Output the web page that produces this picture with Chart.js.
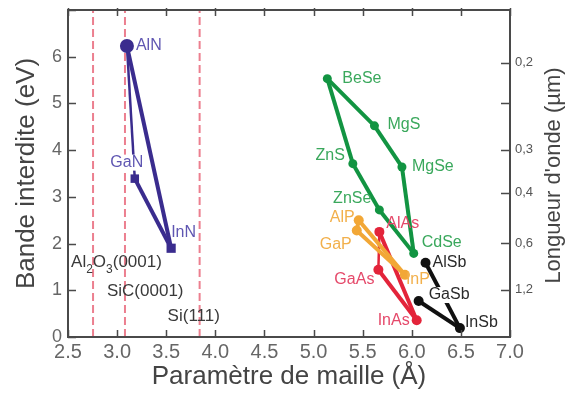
<!DOCTYPE html>
<html><head><meta charset="utf-8">
<script src="https://cdn.jsdelivr.net/npm/chart.js@4/dist/chart.umd.min.js"></script>
<style>html,body{margin:0;padding:0;background:#fff}canvas{display:block}</style>
</head><body>
<canvas id="c" width="565" height="400"></canvas>
<script>
// ---------- data ----------
const nitrides = ['AlN', 'GaN', 'InN'];
const nitrideLattice = [3.10, 3.18, 3.55];
const nitrideGap = [6.23, 3.39, 1.90];

const chalcogenides = ['BeSe', 'MgS', 'MgSe', 'ZnS', 'ZnSe', 'CdSe'];
const chalcogenideLattice = [5.14, 5.62, 5.90, 5.40, 5.67, 6.02];
const chalcogenideGap = [5.53, 4.52, 3.64, 3.71, 2.72, 1.79];

const phosphides = ['AlP', 'GaP', 'InP'];
const phosphideLattice = [5.46, 5.44, 5.93];
const phosphideGap = [2.50, 2.28, 1.33];

const arsenides = ['AlAs', 'GaAs', 'InAs'];
const arsenideLattice = [5.67, 5.66, 6.05];
const arsenideGap = [2.25, 1.44, 0.36];

const antimonides = ['AlSb', 'GaSb', 'InSb'];
const antimonideLattice = [6.14, 6.07, 6.49];
const antimonideGap = [1.59, 0.77, 0.19];

const substrates = ['Al2O3(0001)', 'SiC(0001)', 'Si(111)'];
const substrateLattice = [2.755, 3.08, 3.84];
const substrateLabelGap = [1.50, 0.88, 0.35];

const wavelengthLabels = ['0,2', '', '0,3', '0,4', '0,6', '1,2'];
const wavelengthGap = [5.87, 5.01, 4.01, 3.09, 2.01, 1.01];

// links between compounds (thick / thin)
const nitrideLinks = [['AlN', 'InN'], ['GaN', 'InN']];
const nitrideThinLinks = [['AlN', 'GaN']];
const chalcogenideLinks = [['BeSe', 'MgS'], ['MgS', 'MgSe'], ['MgSe', 'CdSe'], ['BeSe', 'ZnS'], ['ZnS', 'ZnSe'], ['ZnSe', 'CdSe']];
const phosphideLinks = [['AlP', 'InP'], ['GaP', 'InP'], ['AlP', 'GaP']];
const arsenideLinks = [['AlAs', 'InAs'], ['GaAs', 'InAs']];
const arsenideThinLinks = [['AlAs', 'GaAs']];
const antimonideLinks = [['AlSb', 'InSb'], ['GaSb', 'InSb']];

// ---------- styles ----------
const families = [
  { names: nitrides, xs: nitrideLattice, ys: nitrideGap, links: nitrideLinks, thin: nitrideThinLinks,
    color: '#3a2c8e', label: '#5f56b2', styles: ['circle', 'rect', 'rect'], radius: [7, 6, 6.5] },
  { names: chalcogenides, xs: chalcogenideLattice, ys: chalcogenideGap, links: chalcogenideLinks, thin: [],
    color: '#129442', label: '#3aa85c', styles: 'circle', radius: 4.5 },
  { names: phosphides, xs: phosphideLattice, ys: phosphideGap, links: phosphideLinks, thin: [],
    color: '#f2a736', label: '#f2b04c', styles: 'circle', radius: 5 },
  { names: arsenides, xs: arsenideLattice, ys: arsenideGap, links: arsenideLinks, thin: arsenideThinLinks,
    color: '#e3243a', label: '#e5496a', styles: 'circle', radius: 5 },
  { names: antimonides, xs: antimonideLattice, ys: antimonideGap, links: antimonideLinks, thin: [],
    color: '#111111', label: '#2a2a2a', styles: 'circle', radius: 5 }
];

// label placement relative to the point (pixels)
const labelPlacement = {
  AlN: [9, 0, 'left'], GaN: [-8, -16, 'center', true], InN: [0, -16, 'left'],
  BeSe: [15, 0, 'left'], MgS: [13, -1, 'left'], MgSe: [10, 0, 'left'],
  ZnS: [-8, -8, 'right'], ZnSe: [-8, -11, 'right'], CdSe: [8, -11, 'left'],
  AlP: [-4, -3, 'right'], GaP: [-5, 14, 'right'], InP: [1, 5, 'left'],
  AlAs: [7, -8, 'left'], GaAs: [-4, 10, 'right'], InAs: [-7, 0, 'right'],
  AlSb: [7, 0, 'left'], GaSb: [10, -6, 'left', true], InSb: [5, -6, 'left']
};
const substrateLabelShift = [-22, -18, -32];

const FONT = "'Liberation Sans', Arial, sans-serif";

function point(f, name) {
  const i = f.names.indexOf(name);
  return { x: f.xs[i], y: f.ys[i] };
}

const datasets = [];
families.forEach(f => {
  datasets.push({
    type: 'scatter', order: 0,
    data: f.names.map((n, i) => ({ x: f.xs[i], y: f.ys[i] })),
    pointStyle: f.styles, pointRadius: f.radius,
    backgroundColor: f.color, borderColor: f.color, borderWidth: 0
  });
  f.links.forEach(l => datasets.push({
    type: 'line', order: 1, data: l.map(n => point(f, n)),
    borderColor: f.color, borderWidth: 4, pointRadius: 0, tension: 0
  }));
  f.thin.forEach(l => datasets.push({
    type: 'line', order: 1, data: l.map(n => point(f, n)),
    borderColor: f.color, borderWidth: 2.5, pointRadius: 0, tension: 0
  }));
});
substrateLattice.forEach(v => datasets.push({
  type: 'line', order: 2, data: [{ x: v, y: 0 }, { x: v, y: 7 }],
  borderColor: '#ec7f8f', borderWidth: 2, borderDash: [8, 4], pointRadius: 0
}));

const decor = {
  id: 'decor',
  afterDatasetsDraw(chart) {
    const { ctx, chartArea: a, scales } = chart;
    const x = scales.x, y = scales.y;
    ctx.save();
    // compound labels
    ctx.font = '16px ' + FONT;
    ctx.textBaseline = 'middle';
    families.forEach(f => {
      f.names.forEach((n, i) => {
        const [dx, dy, align, bg] = labelPlacement[n];
        const px = x.getPixelForValue(f.xs[i]) + dx;
        const py = y.getPixelForValue(f.ys[i]) + dy;
        ctx.textAlign = align;
        if (bg) {
          const w = ctx.measureText(n).width;
          const lx = align === 'center' ? px - w / 2 : align === 'right' ? px - w : px;
          ctx.fillStyle = '#fff';
          ctx.fillRect(lx - 1, py - 8, w + 2, 16);
        }
        ctx.fillStyle = f.label;
        ctx.fillText(n, px, py);
      });
    });
    // substrate labels
    ctx.fillStyle = '#3a3a3a';
    ctx.textAlign = 'left';
    ctx.textBaseline = 'alphabetic';
    substrates.forEach((s, i) => {
      let px = x.getPixelForValue(substrateLattice[i]) + substrateLabelShift[i];
      const py = y.getPixelForValue(substrateLabelGap[i]);
      const head = s.split('(')[0];
      const tail = s.slice(head.length);
      for (const ch of head) {
        if (/[0-9]/.test(ch)) {
          ctx.font = '12px ' + FONT;
          ctx.fillText(ch, px, py + 6);
        } else {
          ctx.font = '17px ' + FONT;
          ctx.fillText(ch, px, py);
        }
        px += ctx.measureText(ch).width;
      }
      ctx.font = '17px ' + FONT;
      ctx.fillText(tail, px, py);
    });

    // frame and inward ticks
    ctx.strokeStyle = '#4a4a4a';
    ctx.lineWidth = 2;
    ctx.strokeRect(a.left, a.top, a.right - a.left, a.bottom - a.top);
    ctx.lineWidth = 1.5;
    ctx.beginPath();
    x.ticks.forEach(t => {
      const px = Math.round(x.getPixelForValue(t.value)) + 0.5;
      ctx.moveTo(px, a.bottom); ctx.lineTo(px, a.bottom - 7);
      ctx.moveTo(px, a.top - 2); ctx.lineTo(px, a.top + 6);
    });
    y.ticks.forEach(t => {
      const py = Math.round(y.getPixelForValue(t.value)) + 0.5;
      ctx.moveTo(a.left, py); ctx.lineTo(a.left + 8, py);
    });
    scales.y2.ticks.forEach(t => {
      const py = Math.round(scales.y2.getPixelForValue(t.value)) + 0.5;
      ctx.moveTo(a.right, py); ctx.lineTo(a.right - 9, py);
    });
    ctx.stroke();

    // right axis title
    ctx.translate(554, (a.top + a.bottom) / 2 + 2);
    ctx.rotate(-Math.PI / 2);
    ctx.font = '22px ' + FONT;
    ctx.fillStyle = '#444';
    ctx.textAlign = 'center';
    ctx.textBaseline = 'middle';
    ctx.fillText("Longueur d'onde (µm)", 0, 0);
    ctx.restore();
  }
};

const noPadV = s => { s.paddingTop = 0; s.paddingBottom = 0; };
new Chart(document.getElementById('c'), {
  type: 'scatter',
  data: { datasets },
  options: {
    responsive: false, animation: false, devicePixelRatio: 1,
    layout: { padding: { top: 10, left: 0, right: 0, bottom: 0 } },
    plugins: { legend: { display: false }, tooltip: { enabled: false } },
    scales: {
      x: {
        type: 'linear', min: 2.5, max: 7,
        grid: { display: false, drawTicks: false }, border: { display: false },
        ticks: { stepSize: 0.5, padding: 3, color: '#666', font: { size: 20, family: FONT },
          callback: v => v.toFixed(1) },
        title: { display: true, text: 'Paramètre de maille (Å)', color: '#444',
          font: { size: 26, family: FONT }, padding: { top: 0, bottom: 8 } },
        afterFit: s => { s.height = 63; s.paddingLeft = 0; s.paddingRight = 0; }
      },
      y: {
        type: 'linear', min: 0, max: 7, position: 'left',
        grid: { display: false, drawTicks: false }, border: { display: false },
        ticks: { stepSize: 1, padding: 6, color: '#666', font: { size: 18, family: FONT },
          callback: v => (v === 7 ? '' : v) },
        title: { display: true, text: 'Bande interdite (eV)', color: '#444',
          font: { size: 26, family: FONT }, padding: { top: 11, bottom: 0 } },
        afterFit: s => { s.width = 68; noPadV(s); }
      },
      y2: {
        type: 'linear', min: 0, max: 7, position: 'right',
        grid: { display: false, drawTicks: false }, border: { display: false },
        afterBuildTicks: s => { s.ticks = wavelengthGap.map(v => ({ value: v })); },
        ticks: { padding: 5, color: '#555', font: { size: 13, family: FONT },
          callback: (v, i) => wavelengthLabels[i] },
        afterFit: s => { s.width = 55; noPadV(s); }
      }
    }
  },
  plugins: [decor]
});
</script>
</body></html>
